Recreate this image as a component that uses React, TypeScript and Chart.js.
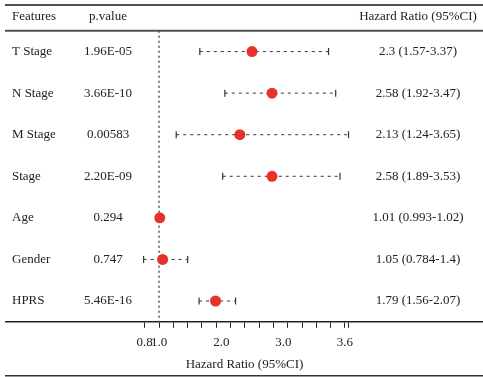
import React, { useEffect, useRef } from "react";
import { Chart, registerables } from "chart.js";

Chart.register(...registerables);

// ---------- data ----------
const headers = ["Features", "p.value", "Hazard Ratio (95%CI)"];
const features = ["T Stage", "N Stage", "M Stage", "Stage", "Age", "Gender", "HPRS"];
const pValues = ["1.96E-05", "3.66E-10", "0.00583", "2.20E-09", "0.294", "0.747", "5.46E-16"];
const hazardRatio = [2.3, 2.58, 2.13, 2.58, 1.01, 1.05, 1.79];
const ciLower = [1.57, 1.92, 1.24, 1.89, 0.993, 0.784, 1.56];
const ciUpper = [3.37, 3.47, 3.65, 3.53, 1.02, 1.4, 2.07];
const hrLabels = [
  "2.3 (1.57-3.37)",
  "2.58 (1.92-3.47)",
  "2.13 (1.24-3.65)",
  "2.58 (1.89-3.53)",
  "1.01 (0.993-1.02)",
  "1.05 (0.784-1.4)",
  "1.79 (1.56-2.07)",
];
const refValue = 1;
const axisTickValues = [0.8, 1.0, 1.2, 1.4, 1.6, 1.8, 2.0, 2.2, 2.4, 2.6, 2.8, 3.0, 3.2, 3.4, 3.6, 3.65];
const axisLabelValues = [0.8, 1.0, 1.87, 2.74, 3.6];
const axisLabelTexts = ["0.8", "1.0", "2.0", "3.0", "3.6"];
const axisTitle = "Hazard Ratio (95%CI)";

const FONT = "'Liberation Serif', 'Times New Roman', serif";
const TEXT_COLOR = "#222";
const RED = "#e8312b";

const X_MIN = -1.14;
const X_MAX = 5.53;
const Y_MIN = -0.12;
const Y_MAX = 7.5;

const tablePlugin = {
  id: "forestTable",
  afterDraw(chart: any) {
    const { ctx, chartArea, scales } = chart;
    const y = scales.y;
    const W = chart.width;
    const H = chart.height;
    ctx.save();
    // rules
    ctx.strokeStyle = "#505050";
    ctx.lineWidth = 2;
    const rule = (py: number) => {
      ctx.beginPath();
      ctx.moveTo(5, py);
      ctx.lineTo(W, py);
      ctx.stroke();
    };
    rule(chartArea.top);
    rule(y.getPixelForValue(0.5));
    ctx.lineWidth = 1.5;
    ctx.strokeStyle = "#333";
    rule(H - 1.2);

    // text
    ctx.font = `13px ${FONT}`;
    ctx.fillStyle = TEXT_COLOR;
    ctx.textBaseline = "middle";
    const hy = y.getPixelForValue(0.15);
    ctx.textAlign = "left";
    ctx.fillText(headers[0], 12, hy);
    ctx.textAlign = "center";
    ctx.fillText(headers[1], 108, hy);
    ctx.fillText(headers[2], 418, hy);

    features.forEach((f, i) => {
      const py = y.getPixelForValue(i + 1);
      ctx.textAlign = "left";
      ctx.fillText(f, 12, py);
      ctx.textAlign = "center";
      ctx.fillText(pValues[i], 108, py);
      ctx.fillText(hrLabels[i], 418, py);
    });
    ctx.restore();
  },
};

export default function App() {
  const ref = useRef<HTMLCanvasElement | null>(null);

  useEffect(() => {
    if (!ref.current) return;
    Chart.defaults.font.family = FONT;
    Chart.defaults.font.size = 13;
    Chart.defaults.color = TEXT_COLOR;

    const ciSets = features.map((_, i) => ({
      type: "line" as const,
      data: [
        { x: ciLower[i], y: i + 1 },
        { x: ciUpper[i], y: i + 1 },
      ],
      showLine: true,
      borderColor: "#333",
      borderWidth: 1,
      borderDash: [3, 4],
      pointStyle: "line" as const,
      rotation: 90,
      pointRotation: 90,
      pointRadius: 3.5,
      pointBorderColor: "#333",
      pointBorderWidth: 1.2,
      order: 1,
    }));

    const chart = new Chart(ref.current, {
      type: "scatter",
      data: {
        datasets: [
          {
            data: hazardRatio.map((v, i) => ({ x: v, y: i + 1 })),
            backgroundColor: RED,
            borderColor: RED,
            borderWidth: 0,
            pointRadius: 5.5,
            showLine: false,
            order: 0,
          } as any,
          ...(ciSets as any[]),
          {
            type: "line",
            data: [
              { x: refValue, y: 0.5 },
              { x: refValue, y: Y_MAX },
            ],
            showLine: true,
            borderColor: "#555",
            borderWidth: 1.5,
            borderDash: [2, 3],
            pointRadius: 0,
            order: 2,
          } as any,
        ],
      },
      options: {
        responsive: false,
        animation: false,
        events: [],
        layout: { autoPadding: false, padding: { left: 6, right: 0, top: 5, bottom: 0 } },
        plugins: {
          legend: { display: false },
          tooltip: { enabled: false },
        },
        scales: {
          y: {
            type: "linear",
            reverse: true,
            min: Y_MIN,
            max: Y_MAX,
            display: false,
          },
          x: {
            type: "linear",
            position: "bottom",
            weight: 0,
            min: X_MIN,
            max: X_MAX,
            afterBuildTicks: (s: any) => {
              s.ticks = axisTickValues.map((v) => ({ value: v }));
            },
            ticks: { display: false },
            grid: {
              display: true,
              drawOnChartArea: false,
              drawTicks: true,
              tickLength: 6,
              tickColor: "#222",
              tickWidth: 1,
              lineWidth: 1,
              color: "#222",
            },
            border: { display: true, color: "#222", width: 1.5 },
          },
          x2: {
            type: "linear",
            position: "bottom",
            axis: "x",
            weight: 1,
            min: X_MIN,
            max: X_MAX,
            afterBuildTicks: (s: any) => {
              s.ticks = axisLabelValues.map((v) => ({ value: v }));
            },
            ticks: {
              autoSkip: false,
              maxRotation: 0,
              padding: 7,
              color: TEXT_COLOR,
              font: { size: 13, family: FONT },
              callback: (_v: any, idx: number) => axisLabelTexts[idx],
            },
            grid: { display: false, drawTicks: false },
            border: { display: false },
            title: {
              display: true,
              text: axisTitle,
              color: TEXT_COLOR,
              font: { size: 13, family: FONT },
              padding: { top: -1, bottom: 5 },
            },
          },
        } as any,
      },
      plugins: [tablePlugin],
    } as any);

    return () => chart.destroy();
  }, []);

  return (
    <div style={{ position: "absolute", left: 0, top: 0, width: 483, height: 377, background: "#fff" }}>
      <canvas ref={ref} width={483} height={377} style={{ display: "block" }} />
    </div>
  );
}
